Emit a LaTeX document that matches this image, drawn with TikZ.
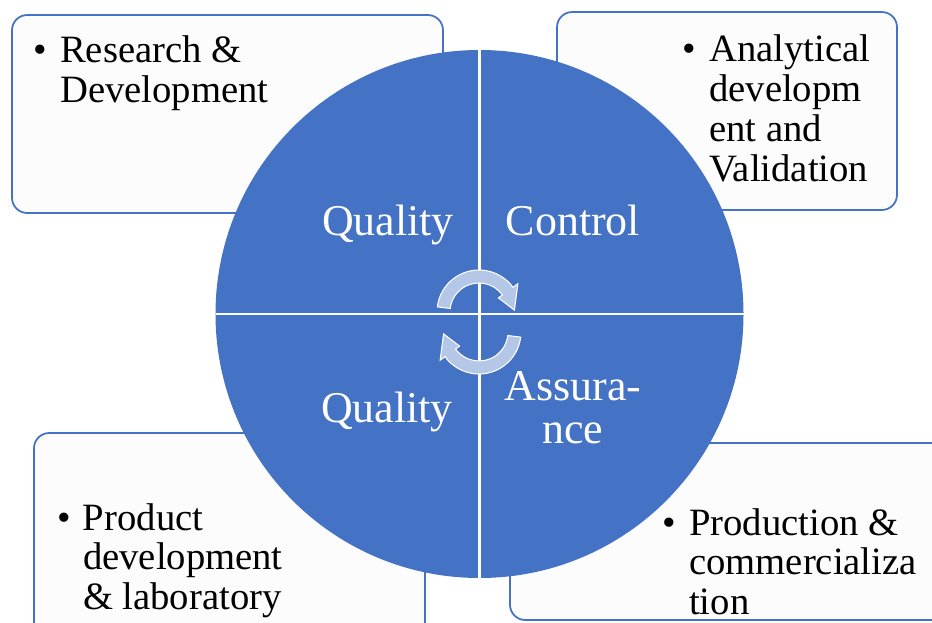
\documentclass[tikz,border=0pt]{standalone}
\usepackage{fontspec}
\setmainfont{Liberation Serif}
\usepackage{xcolor}
\usepackage{tikz}
\usetikzlibrary{positioning}

\definecolor{qblue}{HTML}{4472C4}
\definecolor{arrowblue}{HTML}{B4C7E7}

\begin{document}
\begin{tikzpicture}[
    x=0.03cm, y=0.03cm,
    box/.style={
        % 圆角文本框
        draw=qblue,
        line width=1.5pt,
        fill=black!1,
        rounded corners=13pt},
    entry/.style={
        anchor=base west,
        inner sep=0pt,
        font=\fontsize{33}{34}\selectfont},
    quarter/.style={
        anchor=base,
        inner sep=0pt,
        align=center,
        text=white,
        font=\fontsize{37.5}{36.5}\selectfont},
    cycle arrow/.style={
        fill=arrowblue,
        draw=white,
        line width=0.9pt}
  ]
  \useasboundingbox (0,0) rectangle (932,-623);
  \clip (0,0) rectangle (932,-623);
  % 四个角上的框
  \draw[box] (12,-15) rectangle (443,-213);
  \draw[box] (557,-12) rectangle (897,-210);
  \draw[box] (34,-433) rectangle (425,-660);
  \draw[box] (510,-443) rectangle (960,-620);
  % 中间的圆和分隔线
  \fill[qblue] (479.5,-314) circle[radius=264];
  \draw[white, line width=2.4pt] (479.5,-50) -- (479.5,-578)
                                 (215.5,-314) -- (743.5,-314);
  % 循环箭头
  \foreach \r/\cy in {0/-312, 180/-332}
    \draw[cycle arrow, shift={(479,\cy)}, rotate=\r]
      (173:42) arc[start angle=173, end angle=36, radius=42]
      -- (36:48) -- (3:35.5) -- (36:24) -- (36:29)
      arc[start angle=36, end angle=173, radius=29] -- cycle;
  % 圆内文字
  \node (quality top) [quarter] at (388,-235) {Quality};
  \node (control) [quarter] at (573,-235) {Control};
  \node (quality bottom) [quarter] at (387,-422) {Quality};
  \node (assurance) [quarter] at (573,-443) {Assura-\\nce};
  % 框内条目
  \node (research) [entry] at (33,-63)
    {\begin{tabular}[t]{@{}p{23pt}@{}l@{}}\textbullet & Research \&\\ & Development\end{tabular}};
  \node (analytical) [entry] at (682,-62)
    {\begin{tabular}[t]{@{}p{23pt}@{}l@{}}\textbullet & Analytical\\ & developm\\ & ent and\\ & Validation\end{tabular}};
  \node (product) [entry] at (57,-530)
    {\begin{tabular}[t]{@{}p{22pt}@{}l@{}}\textbullet & Product\\ & development\\ & \& laboratory\end{tabular}};
  \node (production) [entry] at (662,-535)
    {\begin{tabular}[t]{@{}p{23pt}@{}l@{}}\textbullet & Production \&\\ & commercializa\\ & tion\end{tabular}};
\end{tikzpicture}
\end{document}
